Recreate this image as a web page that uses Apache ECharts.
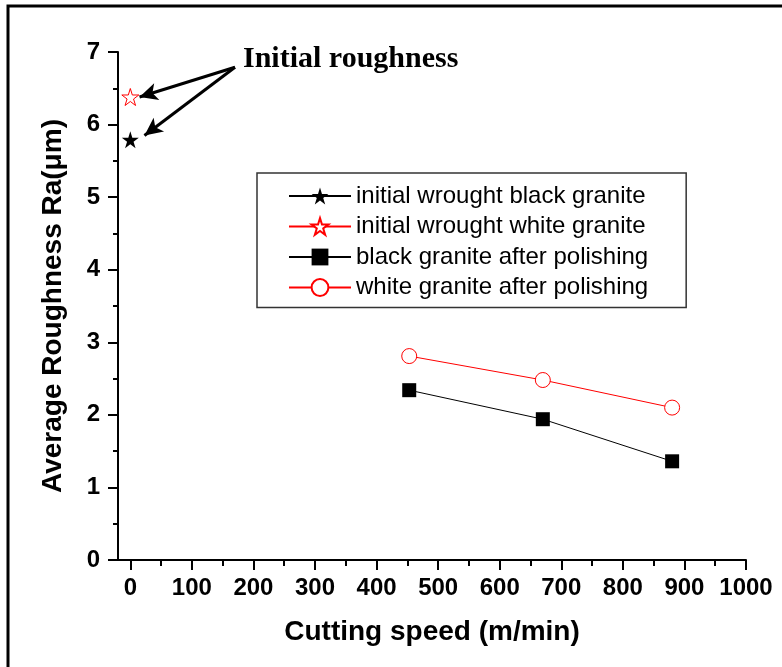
<!DOCTYPE html>
<html>
<head>
<meta charset="utf-8">
<script src="https://cdn.jsdelivr.net/npm/echarts@6/dist/echarts.min.js"></script>
<style>
  html, body { margin: 0; padding: 0; background: #fff; }
  #chart { width: 782px; height: 667px; }
</style>
</head>
<body>
<div id="chart"></div>
<script>
// cutting speeds (m/min) of the polished samples
const speeds = [453, 670, 880];
const blackPolished = [2.34, 1.94, 1.36];
const whitePolished = [2.81, 2.48, 2.10];
// initial roughness, plotted at speed 0
const blackInitial = [[0, 5.79]];
const whiteInitial = [[0, 6.38]];

const seriesNames = [
  "initial wrought black granite",
  "initial wrought white granite",
  "black granite after polishing",
  "white granite after polishing"
];

const xTicks = [0, 100, 200, 300, 400, 500, 600, 700, 800, 900, 1000];
const xMinorTicks = [50, 150, 250, 350, 450, 550, 650, 750, 850, 950];

// annotation arrows (data coords)
const arrowStart = [170, 6.79];
const arrowEnds = [[15, 6.38], [23, 5.85]];

const starPath = "path://M50 0 L61.23 34.55 L97.55 34.55 L68.17 55.9 L79.39 90.45 L50 69.1 L20.61 90.45 L31.83 55.9 L2.45 34.55 L38.77 34.55 Z";

const sans = '"Liberation Sans", Arial, sans-serif';
const serif = '"Liberation Serif", "Times New Roman", serif';

const chart = echarts.init(document.getElementById("chart"));

const option = {
  backgroundColor: "#fff",
  animation: false,
  grid: { left: 118, right: 36, top: 52, bottom: 107 },
  graphic: [
    {
      type: "rect",
      shape: { x: 8, y: 6, width: 800, height: 700 },
      style: { fill: "none", stroke: "#000", lineWidth: 3 },
      silent: true
    },
    {
      type: "text",
      left: 243,
      top: 44,
      style: {
        text: "Initial roughness",
        font: "bold 30px " + serif,
        fill: "#000"
      }
    }
  ],
  legend: {
    orient: "vertical",
    left: 257,
    top: 173,
    padding: [11, 38, 8, 31],
    borderColor: "#333",
    borderWidth: 1.5,
    itemWidth: 62,
    itemHeight: 21,
    itemGap: 6.5,
    textStyle: { fontFamily: sans, fontSize: 24, color: "#000", lineHeight: 24 },
    data: seriesNames
  },
  xAxis: [
    {
      type: "value",
      min: -20,
      max: 1000,
      name: "Cutting speed (m/min)",
      nameLocation: "middle",
      nameGap: 58,
      nameTextStyle: { fontFamily: sans, fontSize: 28, fontWeight: "bold", color: "#000" },
      axisLine: { onZero: false, lineStyle: { color: "#000", width: 2 } },
      axisTick: { inside: false, length: 10, lineStyle: { width: 2, color: "#000" }, customValues: xTicks },
      axisLabel: {
        fontFamily: sans, fontSize: 24, fontWeight: "bold", color: "#000", margin: 16,
        customValues: xTicks,
        formatter: function (v) { return String(v); }
      },
      splitLine: { show: false }
    },
    {
      type: "value",
      position: "bottom",
      min: -20,
      max: 1000,
      axisLine: { show: false, onZero: false },
      axisTick: { inside: false, length: 6, lineStyle: { width: 2, color: "#000" }, customValues: xMinorTicks },
      axisLabel: { show: false },
      splitLine: { show: false }
    }
  ],
  yAxis: {
    type: "value",
    min: 0,
    max: 7,
    interval: 1,
    name: "Average Roughness Ra(\u03bcm)",
    nameLocation: "middle",
    nameGap: 51,
    nameTextStyle: { fontFamily: sans, fontSize: 28, fontWeight: "bold", color: "#000" },
    axisLine: { show: true, onZero: false, lineStyle: { color: "#000", width: 2 } },
    axisTick: { show: true, inside: false, length: 10, lineStyle: { width: 2, color: "#000" } },
    minorTick: { show: true, splitNumber: 2, length: 5, lineStyle: { width: 2, color: "#000" } },
    axisLabel: { fontFamily: sans, fontSize: 24, fontWeight: "bold", color: "#000", margin: 18 },
    splitLine: { show: false }
  },
  series: [
    {
      name: seriesNames[0],
      type: "line",
      data: blackInitial,
      symbol: starPath,
      symbolSize: 17,
      itemStyle: { color: "#000" },
      lineStyle: { color: "#000", width: 1 },
      markLine: {
        silent: true,
        symbol: ["none", "arrow"],
        symbolSize: [13, 18],
        label: { show: false },
        lineStyle: { color: "#000", width: 3, type: "solid" },
        data: arrowEnds.map(function (e) {
          return [{ coord: arrowStart }, { coord: e }];
        })
      }
    },
    {
      name: seriesNames[1],
      type: "line",
      data: whiteInitial,
      symbol: starPath,
      symbolSize: 17,
      itemStyle: { color: "#fff", borderColor: "#ff0000", borderWidth: 1 },
      lineStyle: { color: "#ff0000", width: 1 }
    },
    {
      name: seriesNames[2],
      type: "line",
      data: speeds.map(function (s, i) { return [s, blackPolished[i]]; }),
      symbol: "rect",
      symbolSize: 14,
      itemStyle: { color: "#000" },
      lineStyle: { color: "#000", width: 1 }
    },
    {
      name: seriesNames[3],
      type: "line",
      data: speeds.map(function (s, i) { return [s, whitePolished[i]]; }),
      symbol: "circle",
      symbolSize: 15,
      itemStyle: { color: "#fff", borderColor: "#ff0000", borderWidth: 1 },
      lineStyle: { color: "#ff0000", width: 1 }
    }
  ]
};

chart.setOption(option);
</script>
</body>
</html>
